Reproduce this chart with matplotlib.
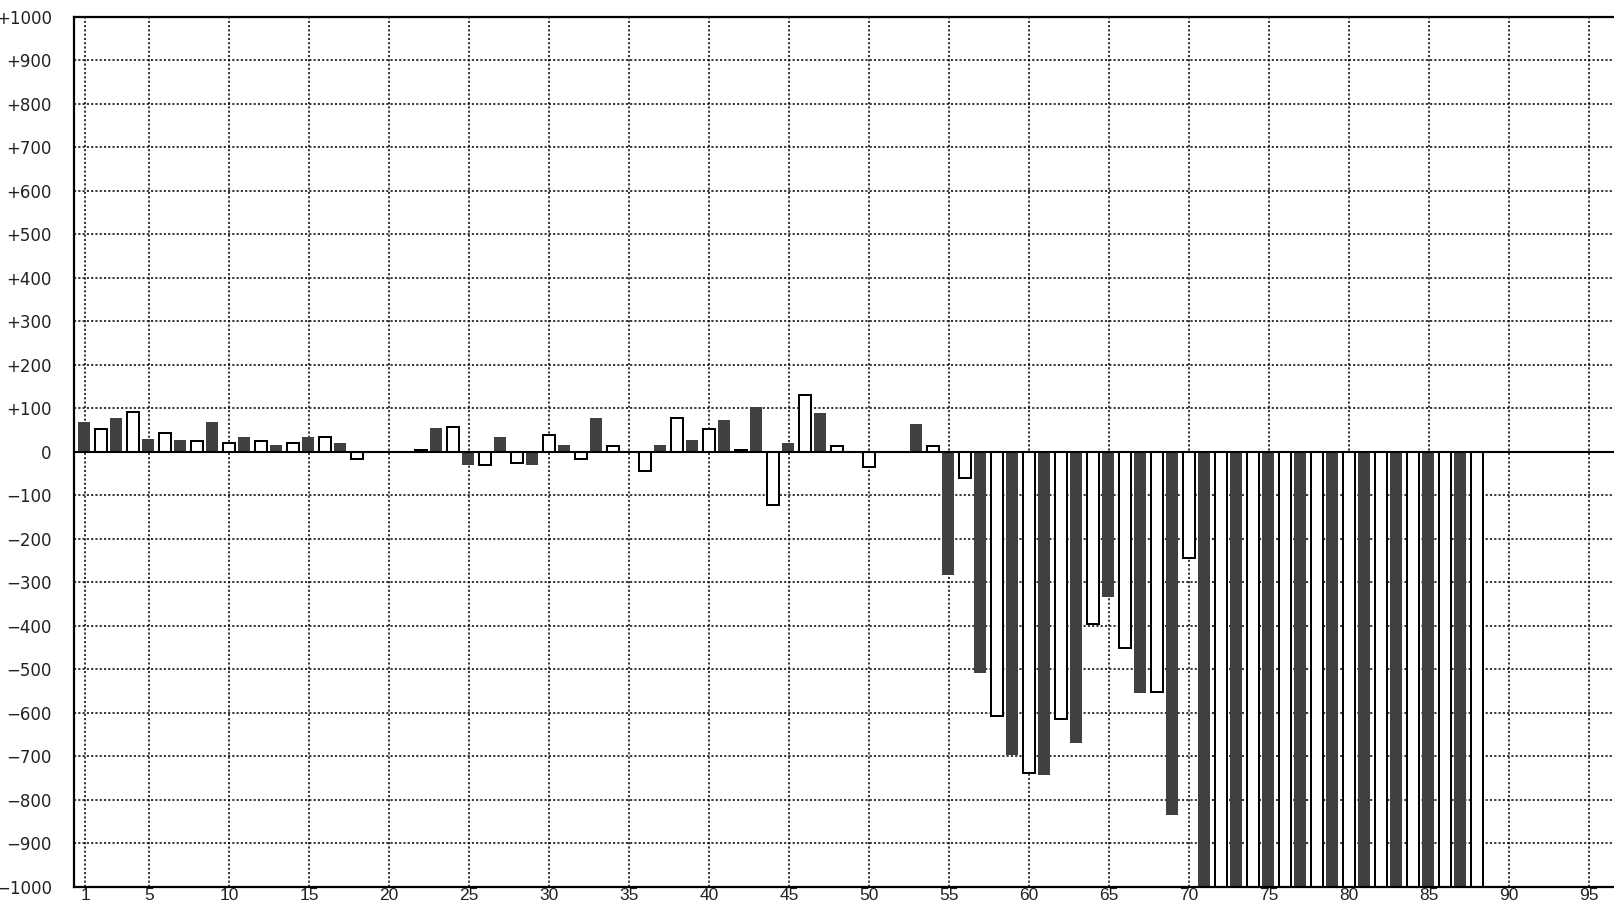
import numpy as np
import matplotlib
matplotlib.use('Agg')
import matplotlib.pyplot as plt

# values, one per slot (odd slots dark, even slots white)
values = [68, 53, 78, 91, 30, 43, 26, 24, 68, 19,
          35, 24, 16, 19, 35, 34, 21, -16, 0, 0,
          0, 5, 54, 58, -31, -30, 35, -25, -31, 38,
          16, -16, 78, 14, 0, -45, 16, 77, 26, 53,
          74, 5, 102, -122, 21, 130, 88, 14, 0, -35,
          1, 0, 64, 14, -283, -61, -508, -608, -697, -737,
          -743, -613, -670, -395, -333, -451, -554, -552, -834, -244,
          -1000, -1000, -1000, -1000, -1000, -1000, -1000, -1000, -1000, -1000,
          -1000, -1000, -1000, -1000, -1000, -1000, -1000, -1000]

xticks = [1, 5, 10, 15, 20, 25, 30, 35, 40, 45, 50, 55, 60, 65, 70, 75, 80, 85, 90, 95]
yticks = list(range(-1000, 1001, 100))
ylabels = ['0' if v == 0 else ('+%d' % v if v > 0 else '\u2212%d' % -v) for v in yticks]

W, H = 1614, 908
fig = plt.figure(figsize=(W / 100, H / 100), dpi=100)

# axes box in pixel terms, right side runs off the canvas
left, top, bottom = 74, 16.5, 887
right = W + 10
ax = fig.add_axes([left / W, (H - bottom) / H, (right - left) / W, (bottom - top) / H])

px_per_unit = 16.0
x0 = 1 + (left - 85) / px_per_unit
x1 = 1 + (right - 85) / px_per_unit

slots = np.arange(1, len(values) + 1)
vals = np.array(values)
odd = slots % 2 == 1
even = ~odd

ax.bar(slots[odd] - 0.07, vals[odd], width=0.75, color='#404040', linewidth=0, zorder=2)
ax.bar(slots[even], vals[even], width=0.75, color='white', edgecolor='black',
       linewidth=1.44, zorder=2)

ax.axhline(0, color='black', linewidth=1.5, zorder=4)

ax.set_xlim(x0, x1)
ax.set_ylim(-1000, 1000)
ax.set_xticks(xticks)
ax.set_yticks(yticks)
ax.set_yticklabels(ylabels)

ax.set_axisbelow(True)
ax.grid(True, color='black', linestyle=(0, (1.4, 1.4)), linewidth=1.1)

for s in ['left', 'top', 'bottom']:
    ax.spines[s].set_linewidth(1.6)
ax.spines['right'].set_visible(False)

ax.tick_params(axis='both', length=0)
ax.tick_params(axis='y', pad=16, labelsize=12, labelcolor='#222222')
ax.tick_params(axis='x', pad=1, labelsize=12.5, labelcolor='#222222')
for lab in ax.get_xticklabels():
    lab.set_family(['Liberation Sans', 'DejaVu Sans'])
for lab in ax.get_yticklabels():
    lab.set_family(['DejaVu Sans'])

fig.savefig('out.png', dpi=100)
